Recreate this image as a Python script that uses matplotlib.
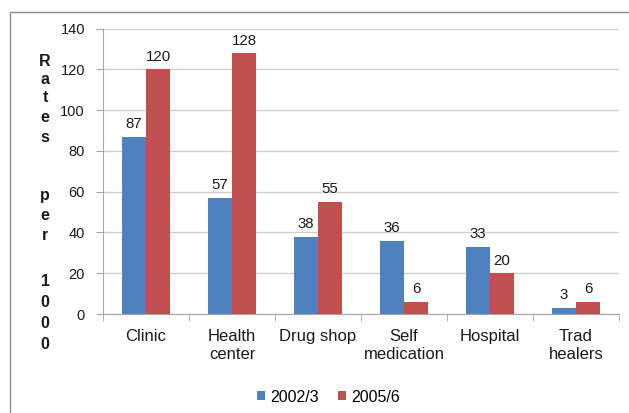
import matplotlib
matplotlib.use('Agg')
import matplotlib.pyplot as plt
import numpy as np
from matplotlib.patches import Rectangle

plt.rcParams.update({
    'font.family': ['Liberation Sans', 'DejaVu Sans'],
    'font.size': 10.5,
})

# Data
categories = ['Clinic', 'Health\ncenter', 'Drug shop', 'Self\nmedication', 'Hospital', 'Trad\nhealers']
rates_2002 = [87, 57, 38, 36, 33, 3]
rates_2005 = [120, 128, 55, 6, 20, 6]
series_names = ['2002/3', '2005/6']
y_ticks = [0, 20, 40, 60, 80, 100, 120, 140]
ylabel_chars = ['R', 'a', 't', 'e', 's', 'p', 'e', 'r', '1', '0', '0', '0']

BLUE = '#4F81BD'
RED = '#C0504D'
GRID = '#D0D0D0'
AXIS = '#A6A6A6'
TXT = '#1a1a1a'

W, H = 629, 413
fig = plt.figure(figsize=(W / 100, H / 100), dpi=100)

# outer chart border (cut at right/bottom like the source)
fig.patches.append(Rectangle((10 / W, -0.1), 1.2, 1 - 12.5 / H + 0.1, transform=fig.transFigure,
                             fill=False, edgecolor='#8C8C8C', linewidth=1.0))

ax = fig.add_axes([103 / W, 1 - 314 / H, 516 / W, (314 - 28.7) / H])

x = np.arange(len(categories))
w = 0.28
b1 = ax.bar(x - w / 2, rates_2002, w, color=BLUE, label=series_names[0])
b2 = ax.bar(x + w / 2, rates_2005, w, color=RED, label=series_names[1])

for bars, vals in [(b1, rates_2002), (b2, rates_2005)]:
    for bar, v in zip(bars, vals):
        ax.annotate(f'{v}', xy=(bar.get_x() + bar.get_width() / 2, v), xytext=(0, 4),
                    textcoords='offset points', ha='center', va='bottom', fontsize=10.8,
                    color=TXT)

ax.set_xlim(-0.5, len(categories) - 0.5)
ax.set_ylim(0, 140)
ax.set_yticks(y_ticks)
ax.set_yticklabels([str(t) for t in y_ticks], fontsize=10.5, color=TXT)
ax.yaxis.grid(True, color=GRID, linewidth=1.0)
ax.set_axisbelow(True)

ax.set_xticks(x)
ax.set_xticklabels(categories, fontsize=12, color=TXT, linespacing=1.25)
ax.tick_params(axis='x', length=0, pad=10.5)
ax.set_xticks(np.arange(-0.5, len(categories) + 0.5, 1), minor=True)
ax.tick_params(axis='x', which='minor', length=5, color=AXIS, direction='out')
ax.tick_params(axis='y', length=5, color=AXIS, pad=8)

for s in ['top', 'right']:
    ax.spines[s].set_visible(False)
ax.spines['left'].set_color(AXIS)
ax.spines['bottom'].set_color(AXIS)

# vertical stacked y label "Rates per 1000" (baselines in pixels from top)
ylabel_base = [65.7, 83.5, 102.5, 122, 142, 200, 220, 240.5, 286.5, 306.7, 328, 349]
for ch, yb in zip(ylabel_chars, ylabel_base):
    fig.text(45 / W, 1 - yb / H, ch, ha='center', va='baseline', fontsize=11.5,
             fontweight='bold', color=TXT)

ax.legend(loc='center', bbox_to_anchor=(328.5 / W, 1 - 397 / H), bbox_transform=fig.transFigure,
          ncol=2, frameon=False, fontsize=11.5, handlelength=0.5, handleheight=0.5,
          handletextpad=0.3, columnspacing=1.2, borderpad=0)

fig.savefig('out.png', dpi=100)
